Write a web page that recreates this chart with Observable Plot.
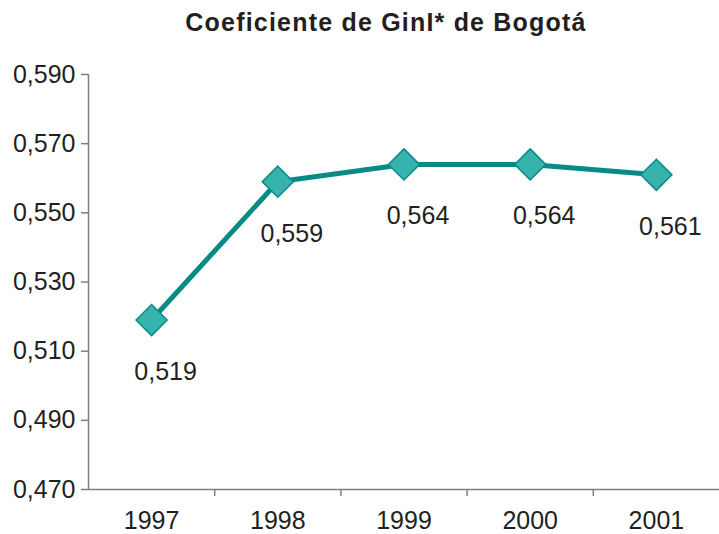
<!DOCTYPE html>
<html><head><meta charset="utf-8">
<script src="https://cdn.jsdelivr.net/npm/d3@7"></script>
<script src="https://cdn.jsdelivr.net/npm/@observablehq/plot@0.6"></script>
<style>
body{margin:0;background:#fff;font-family:"Liberation Sans",Arial,sans-serif;}
#title{height:44px;line-height:44px;font-weight:bold;font-size:25px;letter-spacing:1.2px;color:#231f20;text-align:center;padding-left:53px;box-sizing:border-box;width:719px;white-space:nowrap;}
</style></head><body>
<div id="title">Coeficiente de GinI* de Bogotá</div>
<div id="chart"></div>
<script>
const years = [1997, 1998, 1999, 2000, 2001];
const gini = [0.519, 0.559, 0.564, 0.564, 0.561];
const yTicks = [0.47, 0.49, 0.51, 0.53, 0.55, 0.57, 0.59];
const data = years.map((y, i) => ({year: y, value: gini[i]}));
const fmt = d => d3.format(".3f")(d).replace(".", ",");
const boundaries = years.slice(0, -1).map(y => y + 0.5);
const axisColor = "#7f7f7f";
const textColor = "#231f20";
const chart = Plot.plot({
  width: 719, height: 490,
  marginLeft: 88, marginRight: 0, marginTop: 30, marginBottom: 45,
  style: {fontFamily: '"Liberation Sans", Arial, sans-serif', fontSize: "25px", color: textColor, background: "#fff"},
  x: {domain: [years[0] - 0.5, years[years.length - 1] + 0.5]},
  y: {domain: [0.47, 0.59]},
  marks: [
    Plot.axisY({ticks: yTicks, tickFormat: fmt, tickSize: 7, tickPadding: 6, stroke: axisColor, strokeWidth: 1.5, fill: textColor, label: null, fontSize: 25}),
    Plot.axisX({ticks: boundaries, tickFormat: () => "", tickSize: 7, stroke: axisColor, strokeWidth: 1.5, label: null}),
    Plot.axisX({ticks: years, tickFormat: d => String(d), tickSize: 0, tickPadding: 22, fill: textColor, label: null, fontSize: 25}),
    Plot.ruleX([years[0] - 0.5], {stroke: axisColor, strokeWidth: 1.5}),
    Plot.ruleY([0.47], {stroke: axisColor, strokeWidth: 1.5}),
    Plot.line(data, {x: "year", y: "value", stroke: "#0a8a85", strokeWidth: 5}),
    Plot.dot(data, {x: "year", y: "value", symbol: "diamond2", r: 14, fill: "#36b3ad", stroke: "#0a8a85", strokeWidth: 1.5}),
    Plot.text(data, {x: "year", y: "value", text: d => fmt(d.value), dx: 14, dy: 52, fill: textColor, fontSize: 25})
  ]
});
document.getElementById("chart").appendChild(chart);
</script>
</body></html>
